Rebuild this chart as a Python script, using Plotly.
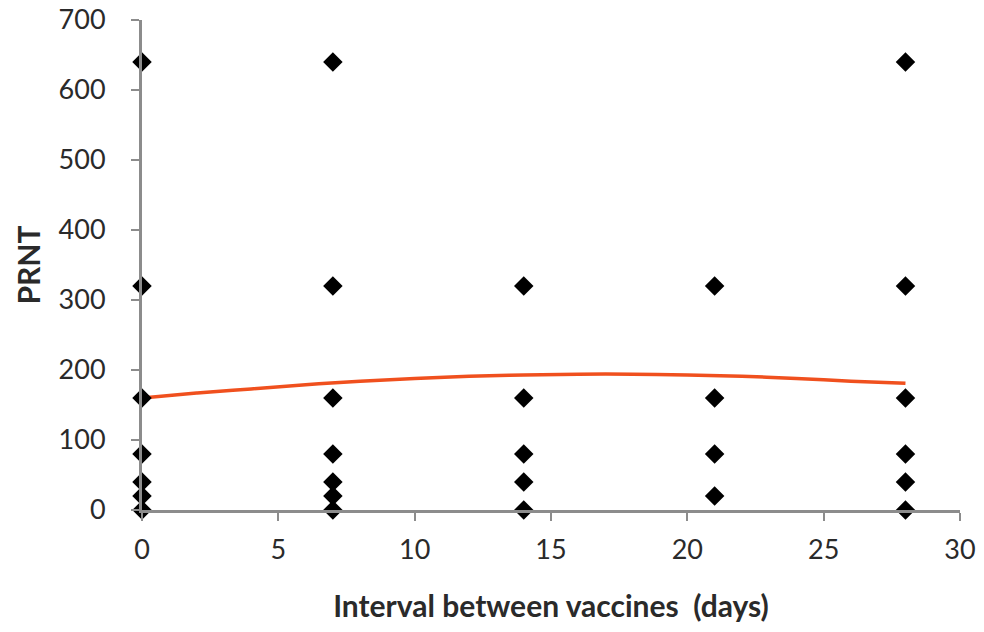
import plotly.graph_objects as go

# Observed PRNT titres by interval between vaccines (days)
interval_days = [0, 0, 0, 0, 0, 0, 0,
                 7, 7, 7, 7, 7, 7, 7,
                 14, 14, 14, 14, 14,
                 21, 21, 21, 21,
                 28, 28, 28, 28, 28, 28]
prnt = [640, 320, 160, 80, 40, 20, 0,
        640, 320, 160, 80, 40, 20, 0,
        320, 160, 80, 40, 0,
        320, 160, 80, 20,
        640, 320, 160, 80, 40, 0]

# Trend line
trend_x = [0, 2, 4, 6, 8, 10, 12, 14, 16, 18, 20, 22, 24, 26, 28]
trend_y = [160, 167, 173, 179, 184, 188, 191, 193, 194, 194, 193, 191, 188, 184, 181]

x_ticks = [0, 5, 10, 15, 20, 25, 30]
y_ticks = [0, 100, 200, 300, 400, 500, 600, 700]

fig = go.Figure()
fig.add_trace(go.Scatter(
    x=trend_x, y=trend_y, mode="lines",
    line=dict(color="#F0501E", width=3.5, shape="spline"),
    showlegend=False, hoverinfo="skip"))
fig.add_trace(go.Scatter(
    x=interval_days, y=prnt, mode="markers",
    marker=dict(symbol="diamond", size=15, color="black"),
    showlegend=False, cliponaxis=False))

axis_font = dict(family="Lato", size=27, color="#2a2a2a")
title_font = dict(family="Lato", size=30, color="#2a2a2a")
fig.update_layout(
    width=984, height=632,
    margin=dict(l=142, r=24, t=20, b=122),
    paper_bgcolor="white", plot_bgcolor="white",
    xaxis=dict(range=[0, 30], tickvals=x_ticks, showgrid=False, zeroline=False,
               automargin=False,
               showline=True, linecolor="#8c8c8c", linewidth=3,
               ticks="outside", ticklen=8, tickwidth=2, tickcolor="#8c8c8c",
               tickfont=axis_font, ticklabelstandoff=6,
               title=dict(text="<b>Interval between vaccines  (days)</b>",
                          font=title_font, standoff=32)),
    yaxis=dict(range=[0, 700], tickvals=y_ticks, showgrid=False, zeroline=False,
               automargin=False,
               showline=True, linecolor="#8c8c8c", linewidth=3,
               ticks="outside", ticklen=8, tickwidth=2, tickcolor="#8c8c8c",
               tickfont=axis_font, ticklabelstandoff=20,
               title=dict(text="<b>PRNT</b>", font=title_font, standoff=10)),
)
fig.write_html("out.html")
